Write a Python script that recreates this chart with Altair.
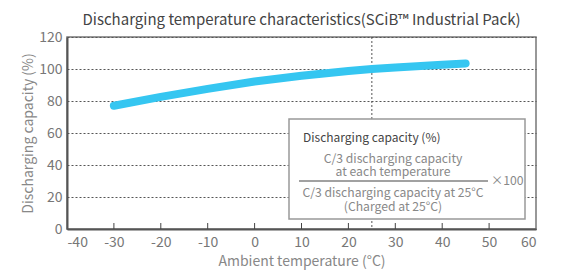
import altair as alt
import pandas as pd

# ---- data ----
temps = [-30, -20, -10, 0, 10, 20, 25, 30, 40, 45]
capacity = [77, 82.6, 87.6, 92.2, 95.8, 98.8, 100, 100.9, 102.7, 103.5]
x_tick_values = [-40, -30, -20, -10, 0, 10, 20, 30, 40, 50, 60]
y_tick_values = [0, 20, 40, 60, 80, 100, 120]
inner_ticks = [-30, -20, -10, 0, 10, 20, 30, 40, 50]
ref_temp = [25]

title_text = "Discharging temperature characteristics(SCiB\u2122 Industrial Pack)"
x_title = "Ambient temperature (\u00b0C)"
y_title = "Discharging capacity (%)"
box_head = "Discharging capacity (%)"
numer_lines = ["C/3 discharging capacity", "at each temperature"]
denom_lines = ["C/3 discharging capacity at 25\u00b0C", "(Charged at 25\u00b0C)"]
times_text = "\u00d7100"

FONT = "Noto Sans CJK JP"
W, H = 469, 192

df = pd.DataFrame({"temp": temps, "cap": capacity})
ticks_df = pd.DataFrame({"t": inner_ticks})
ref_df = pd.DataFrame({"t": ref_temp})
one = pd.DataFrame({"a": [0]})

xscale = alt.Scale(domain=[-40, 60], nice=False, zero=False)
yscale = alt.Scale(domain=[0, 120], nice=False)

xaxis = alt.Axis(values=x_tick_values, title=x_title, grid=False, ticks=False,
                 labelPadding=6, titlePadding=5, labelExpr="'' + datum.value")
yaxis = alt.Axis(values=y_tick_values, title=y_title, grid=True, ticks=False,
                 labelPadding=5, titlePadding=3)

line = alt.Chart(df).mark_line(
    color="#35C6F1", strokeWidth=8, strokeCap="round", strokeJoin="round"
).encode(
    x=alt.X("temp:Q", scale=xscale, axis=xaxis),
    y=alt.Y("cap:Q", scale=yscale, axis=yaxis),
)

ref_rule = alt.Chart(ref_df).mark_rule(
    color="#555", strokeWidth=1, strokeDash=[2, 2]
).encode(x=alt.X("t:Q", scale=xscale))

tick_rules = alt.Chart(ticks_df).mark_rule(color="#444", strokeWidth=1).encode(
    x=alt.X("t:Q", scale=xscale),
    y=alt.value(H),
    y2=alt.value(H - 6),
)

box = alt.Chart(one).mark_rect(
    fill="white", stroke="#999", strokeWidth=1.5
).encode(x=alt.value(222), x2=alt.value(458), y=alt.value(82), y2=alt.value(182))

head = alt.Chart(one).mark_text(
    font=FONT, fontSize=12, color="#444", align="left", baseline="middle"
).encode(x=alt.value(236), y=alt.value(101), text=alt.value(box_head))

def gray_text(txt, x, y, align="center"):
    return alt.Chart(one).mark_text(
        font=FONT, fontSize=12.2, color="#888", align=align, baseline="middle"
    ).encode(x=alt.value(x), y=alt.value(y), text=alt.value(txt))

t1 = gray_text(numer_lines[0], 326, 121.5)
t2 = gray_text(numer_lines[1], 326, 134.5)
t3 = gray_text(denom_lines[0], 326, 156)
t4 = gray_text(denom_lines[1], 326, 169.5)
t5 = gray_text(times_text, 424, 144, align="left")

frac = alt.Chart(one).mark_rule(color="#444", strokeWidth=1.2).encode(
    x=alt.value(232), x2=alt.value(421), y=alt.value(144)
)

chart = alt.layer(
    ref_rule, line, box, head, t1, t2, t3, t4, t5, frac, tick_rules
).properties(
    width=W, height=H,
    title=alt.TitleParams(title_text, font=FONT, fontSize=15, color="#444",
                          fontWeight="normal", offset=2),
    autosize=alt.AutoSizeParams(type="none"),
    padding={"left": 59, "top": 29, "right": 10, "bottom": 42},
).configure_view(
    stroke="#777", strokeWidth=1.5
).configure_axis(
    labelFont=FONT, titleFont=FONT, labelFontSize=14, titleFontSize=14,
    labelColor="#777", titleColor="#888", titleFontWeight="normal",
    domainColor="#555", domainWidth=2,
    gridColor="#555", gridDash=[2, 2], gridWidth=1,
)

chart.save("out.html", embed_options={"renderer": "svg", "actions": False})
